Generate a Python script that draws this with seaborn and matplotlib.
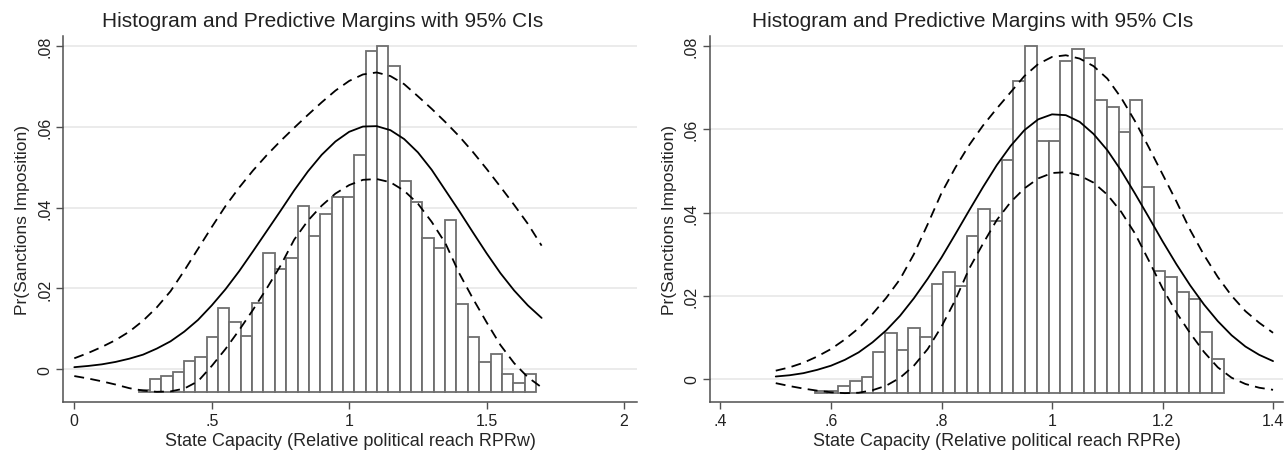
import numpy as np
import pandas as pd
import matplotlib
matplotlib.use("Agg")
import matplotlib.pyplot as plt
import seaborn as sns

# ---- left panel (RPRw) ----
w_grid = [0.00, 0.05, 0.10, 0.15, 0.20, 0.25, 0.30, 0.35, 0.40, 0.45, 0.50, 0.55,
          0.60, 0.65, 0.70, 0.75, 0.80, 0.85, 0.90, 0.95, 1.00, 1.05, 1.10, 1.15,
          1.20, 1.25, 1.30, 1.35, 1.40, 1.45, 1.50, 1.55, 1.60, 1.65, 1.70]
w_margin = [0.0005, 0.0008, 0.0012, 0.0018, 0.0026, 0.0036, 0.0051, 0.0069, 0.0093,
            0.0122, 0.0158, 0.0198, 0.0243, 0.0292, 0.0342, 0.0392, 0.0443, 0.0490,
            0.0531, 0.0564, 0.0588, 0.0601, 0.0602, 0.0592, 0.0570, 0.0537, 0.0494,
            0.0443, 0.0392, 0.0339, 0.0287, 0.0238, 0.0195, 0.0158, 0.0127]
w_upper = [0.0027, 0.0040, 0.0055, 0.0072, 0.0093, 0.0120, 0.0153, 0.0193, 0.0244,
           0.0298, 0.0352, 0.0404, 0.0450, 0.0492, 0.0530, 0.0565, 0.0598, 0.0630,
           0.0661, 0.0690, 0.0714, 0.0730, 0.0735, 0.0726, 0.0706, 0.0676, 0.0645,
           0.0612, 0.0577, 0.0538, 0.0496, 0.0452, 0.0407, 0.0360, 0.0306]
w_lower = [-0.0017, -0.0023, -0.0030, -0.0038, -0.0047, -0.0053, -0.0056, -0.0055,
           -0.0048, -0.0030, 0.0008, 0.0050, 0.0097, 0.0147, 0.0200, 0.0256, 0.0321,
           0.0368, 0.0405, 0.0435, 0.0456, 0.0469, 0.0471, 0.0463, 0.0442, 0.0410,
           0.0365, 0.0312, 0.0238, 0.0175, 0.0116, 0.0060, 0.0015, -0.0020, -0.0045]
w_bin_start = 0.2338
w_bin_width = 0.0413
w_hist_base = -0.0057
w_hist_tops = [-0.0051, -0.0024, -0.0016, -0.0007, 0.0021, 0.0031, 0.0079, 0.0151,
               0.0118, 0.0082, 0.0163, 0.0288, 0.0247, 0.0275, 0.0404, 0.0331, 0.0385,
               0.0426, 0.0426, 0.0531, 0.0788, 0.0800, 0.0750, 0.0466, 0.0415, 0.0324,
               0.0300, 0.0370, 0.0161, 0.0079, 0.0019, 0.0038, -0.0012, -0.0034, -0.0012]

# ---- right panel (RPRe) ----
e_grid = [0.500, 0.525, 0.550, 0.575, 0.600, 0.625, 0.650, 0.675, 0.700, 0.725,
          0.750, 0.775, 0.800, 0.825, 0.850, 0.875, 0.900, 0.925, 0.950, 0.975,
          1.000, 1.025, 1.050, 1.075, 1.100, 1.125, 1.150, 1.175, 1.200, 1.225,
          1.250, 1.275, 1.300, 1.325, 1.350, 1.375, 1.400]
e_margin = [0.0006, 0.0009, 0.0014, 0.0022, 0.0032, 0.0046, 0.0064, 0.0088, 0.0117,
            0.0152, 0.0194, 0.0241, 0.0292, 0.0348, 0.0405, 0.0461, 0.0514, 0.0560,
            0.0598, 0.0624, 0.0636, 0.0634, 0.0618, 0.0589, 0.0550, 0.0501, 0.0446,
            0.0389, 0.0331, 0.0276, 0.0225, 0.0179, 0.0139, 0.0105, 0.0078, 0.0058, 0.0043]
e_upper = [0.0020, 0.0028, 0.0039, 0.0054, 0.0072, 0.0095, 0.0122, 0.0156, 0.0195,
           0.0240, 0.0300, 0.0372, 0.0447, 0.0508, 0.0562, 0.0609, 0.0650, 0.0689,
           0.0728, 0.0757, 0.0774, 0.0778, 0.0770, 0.0752, 0.0722, 0.0676, 0.0620,
           0.0557, 0.0492, 0.0427, 0.0358, 0.0298, 0.0245, 0.0200, 0.0163, 0.0135, 0.0111]
e_lower = [-0.0010, -0.0017, -0.0023, -0.0028, -0.0032, -0.0034, -0.0033, -0.0027,
           -0.0016, 0.0003, 0.0032, 0.0072, 0.0126, 0.0190, 0.0265, 0.0325, 0.0382,
           0.0425, 0.0458, 0.0482, 0.0495, 0.0497, 0.0489, 0.0472, 0.0443, 0.0402,
           0.0350, 0.0285, 0.0218, 0.0160, 0.0110, 0.0065, 0.0028, 0.0003, -0.0012,
           -0.0021, -0.0026]
e_bin_start = 0.5707
e_bin_width = 0.02115
e_hist_base = -0.0034
e_hist_tops = [-0.0029, -0.0028, -0.0018, -0.0006, 0.0004, 0.0064, 0.0111, 0.0070,
               0.0122, 0.0102, 0.0228, 0.0256, 0.0223, 0.0343, 0.0409, 0.0379, 0.0527,
               0.0717, 0.0800, 0.0573, 0.0573, 0.0764, 0.0792, 0.0772, 0.0671, 0.0653,
               0.0593, 0.0671, 0.0461, 0.0260, 0.0244, 0.0208, 0.0192, 0.0114, 0.0048]

y_ticks = [0, 0.02, 0.04, 0.06, 0.08]
y_labels = ["0", ".02", ".04", ".06", ".08"]
w_xticks = [0, 0.5, 1, 1.5, 2]
w_xlabels = ["0", ".5", "1", "1.5", "2"]
e_xticks = [0.4, 0.6, 0.8, 1.0, 1.2, 1.4]
e_xlabels = [".4", ".6", ".8", "1", "1.2", "1.4"]

title = "Histogram and Predictive Margins with 95% CIs"
ylabel = "Pr(Sanctions Imposition)"

sns.set_theme(style="white")
plt.rcParams["font.family"] = ["Liberation Sans", "DejaVu Sans"]

fig = plt.figure(figsize=(12.85, 4.56), dpi=100)
ax_w = fig.add_axes([63.3 / 1285, 1 - 403.3 / 456, (637 - 63.3) / 1285, 366.6 / 456])
ax_e = fig.add_axes([710 / 1285, 1 - 403.3 / 456, (1283 - 710) / 1285, 366.6 / 456])


def draw_panel(ax, grid, margin, upper, lower, start, width, base, tops,
               xlim, ylim, xticks, xlabels, xlabel):
    for t in y_ticks:
        ax.axhline(t, color="#e6e6e6", lw=1.1, zorder=0)
    lefts = start + width * np.arange(len(tops))
    heights = np.array(tops) - base
    ax.bar(lefts, heights, width=width, bottom=base, align="edge",
           facecolor="white", edgecolor="#6e6e6e", linewidth=1.3, zorder=2)
    df = pd.DataFrame({"x": grid, "m": margin, "u": upper, "l": lower})
    sns.lineplot(data=df, x="x", y="m", ax=ax, color="black", lw=1.3, zorder=3)
    sns.lineplot(data=df, x="x", y="u", ax=ax, color="black", lw=1.3,
                 zorder=3).lines[-1].set_dashes((5.5, 3.5))
    sns.lineplot(data=df, x="x", y="l", ax=ax, color="black", lw=1.3,
                 zorder=3).lines[-1].set_dashes((5.5, 3.5))
    ax.set_xlim(*xlim)
    ax.set_ylim(*ylim)
    ax.set_xticks(xticks)
    ax.set_xticklabels(xlabels, fontsize=11.5)
    ax.set_yticks(y_ticks)
    ax.set_yticklabels(y_labels, fontsize=11.5, rotation=90, va="center")
    ax.set_xlabel(xlabel, fontsize=13, labelpad=2.5)
    ax.set_ylabel(ylabel, fontsize=12.5, labelpad=5)
    for s in ["top", "right"]:
        ax.spines[s].set_visible(False)
    for s in ["left", "bottom"]:
        ax.spines[s].set_color("#505050")
        ax.spines[s].set_linewidth(1.1)
    ax.tick_params(axis="both", which="major", direction="out", length=5,
                   width=1.0, color="#505050", labelcolor="#222222", pad=3,
                   bottom=True, left=True)


draw_panel(ax_w, w_grid, w_margin, w_upper, w_lower, w_bin_start, w_bin_width,
           w_hist_base, w_hist_tops, (-0.04, 2.047), (-0.0082, 0.0826),
           w_xticks, w_xlabels, "State Capacity (Relative political reach RPRw)")
draw_panel(ax_e, e_grid, e_margin, e_upper, e_lower, e_bin_start, e_bin_width,
           e_hist_base, e_hist_tops, (0.381, 1.418), (-0.0056, 0.0825),
           e_xticks, e_xlabels, "State Capacity (Relative political reach RPRe)")

fig.text(323 / 1285, 1 - 27 / 456, title, ha="center", va="baseline", fontsize=15,
         color="#222222")
fig.text(973 / 1285, 1 - 27 / 456, title, ha="center", va="baseline", fontsize=15,
         color="#222222")

fig.savefig("out.png", dpi=100)
